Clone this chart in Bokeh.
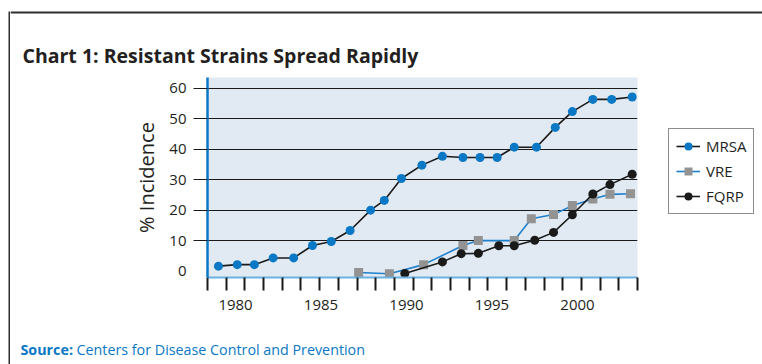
import numpy as np
from bokeh.plotting import figure
from bokeh.layouts import row, column
from bokeh.models import (Range1d, FixedTicker, Label, Legend, LegendItem,
                          BoxAnnotation)
from bokeh.embed import file_html
from bokeh.resources import INLINE

# ---- chart text -------------------------------------------------------
TITLE = "Chart 1: Resistant Strains Spread Rapidly"
Y_LABEL = "% Incidence"
SOURCE_HEAD = "Source:"
SOURCE_TEXT = "Centers for Disease Control and Prevention"

year_labels = [1980, 1985, 1990, 1995, 2000]
pct_ticks = [0, 10, 20, 30, 40, 50, 60]
series_names = ["MRSA", "VRE", "FQRP"]

# ---- series (year, % incidence) ---------------------------------------
mrsa_year = [1979.0, 1980.1, 1981.1, 1982.2, 1983.4, 1984.5, 1985.6, 1986.7,
             1987.9, 1988.7, 1989.7, 1990.9, 1992.1, 1993.3, 1994.3, 1995.3,
             1996.3, 1997.6, 1998.7, 1999.7, 2000.9, 2002.0, 2003.2]
mrsa_pct = [1.6, 2.1, 2.1, 4.3, 4.3, 8.4, 9.7, 13.3, 20.0, 23.2, 30.4, 34.8,
            37.7, 37.3, 37.3, 37.3, 40.7, 40.7, 47.2, 52.4, 56.4, 56.4, 57.2]

vre_year = [1987.2, 1989.0, 1991.0, 1993.3, 1994.2, 1996.3, 1997.3, 1998.6,
            1999.7, 2000.9, 2001.9, 2003.1]
vre_pct = [-0.5, -0.9, 2.1, 8.4, 10.0, 10.0, 17.2, 18.6, 21.5, 23.7, 25.2, 25.4]

fqrp_year = [1989.9, 1992.1, 1993.2, 1994.2, 1995.4, 1996.3, 1997.5, 1998.6,
             1999.7, 2000.9, 2001.9, 2003.2]
fqrp_pct = [-0.8, 3.0, 5.7, 5.8, 8.3, 8.3, 10.1, 12.7, 18.5, 25.3, 28.4, 31.8]

series = {
    "MRSA": (mrsa_year, mrsa_pct),
    "VRE": (vre_year, vre_pct),
    "FQRP": (fqrp_year, fqrp_pct),
}

# ---- page geometry (pixels, from the top-left corner) -----------------
W, H = 762, 364
EDGE_X, EDGE_Y, EDGE_W = 8, 11, 2          # outer rule: left and top
INNER_X = EDGE_X + EDGE_W
FRAME_L, FRAME_R, FRAME_T, FRAME_B = 207, 637, 77, 277
RIGHT_PAD = 3                              # gap between plot area and key
SRC_TOP = 330                              # top of the source strip
X0, X1 = 1978.36, 2003.51
Y0, Y1 = -2.13, 63.6

FONT = "Open Sans"
TEXT = "#231f20"
BLUE = "#0a78c4"
LIGHT_BLUE = "#6ab2e2"
LINE_BLUE = "#1f80cc"
GRAY = "#939393"
BLACK = "#1a1a1a"
RULE = "#2e2e2e"

styles = {
    "MRSA": dict(line=BLACK, marker="circle", fill=BLUE),
    "VRE": dict(line=LINE_BLUE, marker="square", fill=GRAY),
    "FQRP": dict(line=BLACK, marker="circle", fill=BLACK),
}


def blank(width, height):
    f = figure(width=width, height=height, x_range=Range1d(0, width),
               y_range=Range1d(0, height), x_axis_type=None, y_axis_type=None,
               output_backend="svg", toolbar_location=None, min_border=0,
               frame_align=False)
    f.grid.visible = False
    f.outline_line_color = None
    f.background_fill_color = "white"
    f.border_fill_color = "white"
    return f


# ---- outer rule and title ---------------------------------------------
left_rule = blank(INNER_X, H)
left_rule.add_layout(BoxAnnotation(left=EDGE_X, right=INNER_X, bottom=0,
                                   top=H - EDGE_Y, fill_color=RULE,
                                   fill_alpha=1, line_color=None))

top = blank(W - INNER_X, FRAME_T)
top.add_layout(BoxAnnotation(left=0, right=W - INNER_X,
                             bottom=FRAME_T - EDGE_Y - EDGE_W,
                             top=FRAME_T - EDGE_Y, fill_color=RULE,
                             fill_alpha=1, line_color=None))
top.add_layout(Label(x=22 - INNER_X, y=FRAME_T - 55, text=TITLE,
                     text_font=FONT, text_font_size="19.5px",
                     text_font_style="bold", text_color=TEXT,
                     text_baseline="alphabetic"))

# ---- main chart -------------------------------------------------------
MAIN_H = SRC_TOP - FRAME_T
p = figure(width=FRAME_R + RIGHT_PAD - INNER_X, height=MAIN_H,
           x_range=Range1d(X0, X1), y_range=Range1d(Y0, Y1),
           output_backend="svg", toolbar_location=None, frame_align=False,
           min_border_left=FRAME_L - INNER_X, min_border_right=RIGHT_PAD,
           min_border_top=0, min_border_bottom=SRC_TOP - FRAME_B)
p.background_fill_color = "#e1e9f3"
p.border_fill_color = "white"
p.outline_line_color = None

# x axis: evenly spaced tick marks, year labels on their own positions
xa = p.xaxis[0]
xa.ticker = FixedTicker(ticks=year_labels,
                        minor_ticks=list(np.linspace(X0, X1, 24)))
xa.axis_line_color = LIGHT_BLUE
xa.axis_line_width = 2
xa.major_tick_line_color = None
xa.major_tick_out = 0
xa.major_tick_in = 0
xa.minor_tick_line_color = BLACK
xa.minor_tick_line_width = 2
xa.minor_tick_out = 13
xa.minor_tick_in = 0
xa.major_label_standoff = 9
xa.major_label_text_font = FONT
xa.major_label_text_font_size = "15px"
xa.major_label_text_color = TEXT

# y axis
ya = p.yaxis[0]
ya.ticker = FixedTicker(ticks=pct_ticks, minor_ticks=pct_ticks[1:])
ya.axis_line_color = BLUE
ya.axis_line_width = 2.5
ya.major_tick_line_color = None
ya.major_tick_out = 0
ya.major_tick_in = 0
ya.minor_tick_line_color = BLACK
ya.minor_tick_line_width = 1.2
ya.minor_tick_out = 14
ya.minor_tick_in = 0
ya.major_label_standoff = 7
ya.major_label_text_font = FONT
ya.major_label_text_font_size = "15px"
ya.major_label_text_color = TEXT
ya.axis_label = Y_LABEL
ya.axis_label_text_font = FONT
ya.axis_label_text_font_size = "20px"
ya.axis_label_text_font_style = "normal"
ya.axis_label_text_color = TEXT
ya.axis_label_standoff = 6

p.xgrid.visible = False
p.xgrid.grid_line_color = None
p.ygrid.ticker = FixedTicker(ticks=pct_ticks[1:])
p.ygrid.grid_line_color = BLACK
p.ygrid.grid_line_width = 1

# series: VRE first so the FQRP and MRSA marks sit on top
for name in ["VRE", "FQRP", "MRSA"]:
    xs, ys = series[name]
    st = styles[name]
    p.line(xs, ys, line_color=st["line"], line_width=1.6)
    p.scatter(xs, ys, marker=st["marker"], size=9, fill_color=st["fill"],
              line_color=None)

# ---- legend (own panel to the right of the plot area) -----------------
KEY_L = FRAME_R + RIGHT_PAD
key = blank(W - KEY_L, MAIN_H)
items = []
for name in series_names:
    xs, ys = series[name]
    st = styles[name]
    # hidden stand-ins that give the key its line + marker swatches
    ln = key.line(xs, ys, line_color=st["line"], line_width=1.6,
                  visible=False)
    mk = key.scatter(xs, ys, marker=st["marker"], size=9,
                     fill_color=st["fill"], line_color=None, visible=False)
    items.append(LegendItem(label=name, renderers=[ln, mk]))

legend = Legend(items=items, location=(668 - KEY_L, SRC_TOP - 214))
legend.border_line_color = BLACK
legend.border_line_width = 1.5
legend.background_fill_color = "white"
legend.background_fill_alpha = 1
legend.label_text_font = FONT
legend.label_text_font_size = "15px"
legend.label_text_color = TEXT
legend.glyph_width = 24
legend.glyph_height = 20
legend.label_height = 20
legend.spacing = 5
legend.padding = 7
legend.margin = 0
legend.label_standoff = 6
legend.click_policy = "none"
key.add_layout(legend)

# ---- source line ------------------------------------------------------
src = blank(W - INNER_X, H - SRC_TOP)
src_y = H - 349
src.add_layout(Label(x=20 - INNER_X, y=src_y, text=SOURCE_HEAD,
                     text_font=FONT, text_font_size="14.3px",
                     text_font_style="bold", text_color=BLUE,
                     text_baseline="middle"))
src.add_layout(Label(x=76 - INNER_X, y=src_y, text=SOURCE_TEXT,
                     text_font=FONT, text_font_size="14.3px",
                     text_color=BLUE, text_baseline="middle"))

page = row(left_rule,
           column(top, row(p, key, spacing=0), src, spacing=0),
           spacing=0)

open("out.html", "w").write(file_html(page, INLINE))
